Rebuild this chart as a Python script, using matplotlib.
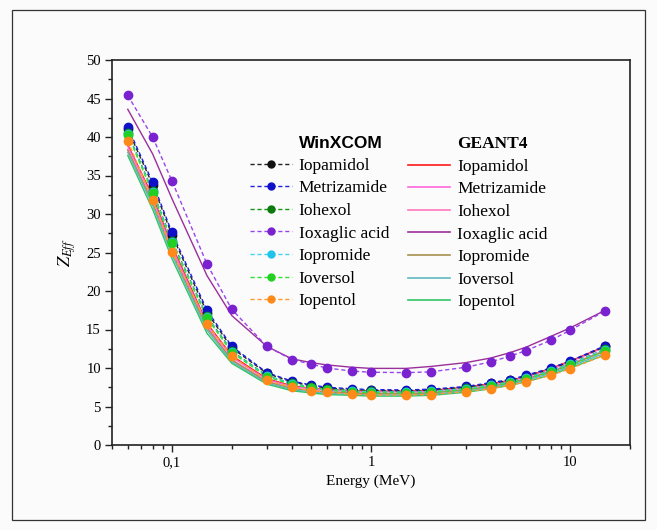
import matplotlib.pyplot as plt
from matplotlib.lines import Line2D
from matplotlib.patches import Rectangle
from matplotlib.ticker import FixedLocator, LogLocator, MultipleLocator, NullFormatter

plt.rcParams["mathtext.fontset"] = "stix"

energy = [0.06, 0.08, 0.1, 0.15, 0.2, 0.3, 0.4, 0.5, 0.6, 0.8, 1, 1.5, 2, 3, 4, 5, 6, 8, 10, 15]

compounds = ["Iopamidol", "Metrizamide", "Iohexol", "Ioxaglic acid", "Iopromide", "Ioversol", "Iopentol"]

# WinXCOM values
wx_iopamidol = [41.0, 33.8, 27.3, 17.2, 12.6, 9.3, 8.2, 7.7, 7.4, 7.2, 7.1, 7.05, 7.15, 7.5, 8.0, 8.4, 8.95, 9.9, 10.8, 12.8]
wx_metrizamide = [41.3, 34.1, 27.6, 17.5, 12.8, 9.4, 8.3, 7.8, 7.5, 7.3, 7.2, 7.15, 7.25, 7.6, 8.1, 8.5, 9.05, 10.0, 10.9, 12.9]
wx_iohexol = [40.5, 33.0, 26.5, 16.7, 12.2, 9.0, 8.0, 7.5, 7.25, 7.05, 6.95, 6.9, 7.0, 7.35, 7.8, 8.2, 8.75, 9.65, 10.55, 12.45]
wx_ioxaglic = [45.4, 40.0, 34.3, 23.5, 17.6, 12.8, 11.1, 10.5, 10.0, 9.6, 9.45, 9.4, 9.5, 10.1, 10.8, 11.55, 12.25, 13.6, 14.9, 17.4]
wx_iopromide = [40.4, 32.9, 26.4, 16.6, 12.1, 8.95, 7.95, 7.45, 7.2, 7.0, 6.9, 6.85, 6.95, 7.3, 7.75, 8.15, 8.7, 9.6, 10.5, 12.4]
wx_ioversol = [40.3, 32.7, 26.2, 16.5, 12.0, 8.85, 7.85, 7.4, 7.1, 6.9, 6.8, 6.75, 6.85, 7.2, 7.65, 8.05, 8.6, 9.45, 10.35, 12.2]
wx_iopentol = [39.5, 31.8, 25.1, 15.7, 11.5, 8.4, 7.5, 7.07, 6.85, 6.6, 6.5, 6.5, 6.55, 6.94, 7.33, 7.76, 8.2, 9.05, 9.9, 11.7]

# GEANT4 values
g4_iopamidol = [39.0, 32.3, 25.9, 15.8, 11.6, 8.6, 7.7, 7.35, 7.2, 7.05, 7.0, 7.0, 7.1, 7.5, 7.95, 8.4, 8.9, 9.95, 10.9, 12.8]
g4_metrizamide = [38.8, 32.0, 25.6, 15.6, 11.4, 8.5, 7.6, 7.3, 7.1, 6.95, 6.9, 6.9, 7.0, 7.4, 7.85, 8.3, 8.8, 9.85, 10.8, 12.7]
g4_iohexol = [38.4, 31.5, 25.2, 15.3, 11.1, 8.3, 7.4, 7.1, 6.9, 6.8, 6.7, 6.7, 6.8, 7.2, 7.65, 8.1, 8.6, 9.6, 10.5, 12.3]
g4_ioxaglic = [43.6, 37.8, 32.0, 22.0, 16.8, 12.8, 11.2, 10.7, 10.4, 10.1, 9.95, 9.95, 10.2, 10.7, 11.3, 12.0, 12.7, 14.1, 15.2, 17.5]
g4_iopromide = [38.3, 31.4, 25.0, 15.2, 11.0, 8.2, 7.35, 7.05, 6.85, 6.75, 6.65, 6.65, 6.75, 7.15, 7.6, 8.05, 8.55, 9.5, 10.4, 12.2]
g4_ioversol = [38.0, 31.1, 24.7, 14.9, 10.8, 8.05, 7.2, 6.9, 6.7, 6.6, 6.5, 6.5, 6.6, 7.0, 7.45, 7.9, 8.4, 9.3, 10.2, 11.95]
g4_iopentol = [37.6, 30.6, 24.2, 14.5, 10.6, 7.9, 7.05, 6.75, 6.55, 6.45, 6.35, 6.35, 6.45, 6.85, 7.3, 7.75, 8.2, 9.1, 10.0, 11.7]

wx_data = [wx_iopamidol, wx_metrizamide, wx_iohexol, wx_ioxaglic, wx_iopromide, wx_ioversol, wx_iopentol]
g4_data = [g4_iopamidol, g4_metrizamide, g4_iohexol, g4_ioxaglic, g4_iopromide, g4_ioversol, g4_iopentol]

wx_colors = ["#111111", "#1010c8", "#0a7a0a", "#7b22d0", "#20c4ea", "#22d022", "#ff8a1a"]
wx_line_colors = ["#222222", "#2020e0", "#139a13", "#9a44ee", "#40d4f0", "#33e033", "#ff9a33"]
g4_colors = ["#ff1a1a", "#ff66dd", "#ff77bb", "#9a2f9a", "#a8904e", "#5fb8c0", "#33c466"]

SERIF = "Liberation Serif"

fig = plt.figure(figsize=(6.57, 5.30), dpi=100)
fig.patch.set_facecolor("#fbfbfb")
ax = fig.add_axes([112 / 657, 85 / 530, 518 / 657, 385 / 530])
ax.set_facecolor("#fbfbfb")
fig.patches.append(Rectangle((12 / 657, 10 / 530), 633 / 657, 510 / 530, transform=fig.transFigure,
                             fill=False, edgecolor="#333333", linewidth=0.9))

for vals, col in zip(g4_data, g4_colors):
    ax.plot(energy, vals, color=col, linewidth=1.0, zorder=2)

for vals, col, lcol in zip(wx_data, wx_colors, wx_line_colors):
    ax.plot(energy, vals, color=lcol, linewidth=1.0, linestyle=(0, (3, 2)), zorder=3)
    ax.plot(energy, vals, linestyle="none", marker="o", markersize=6.0,
            markerfacecolor=col, markeredgecolor=col, zorder=4)

ax.set_xscale("log")
ax.set_xlim(0.05, 20)
ax.set_ylim(0, 50)
ax.xaxis.set_major_locator(FixedLocator([0.1, 1, 10]))
ax.set_xticklabels(["0,1", "1", "10"])
ax.xaxis.set_minor_locator(LogLocator(base=10, subs=range(2, 10)))
ax.xaxis.set_minor_formatter(NullFormatter())
ax.yaxis.set_major_locator(MultipleLocator(5))
ax.yaxis.set_minor_locator(MultipleLocator(2.5))

ax.tick_params(which="both", direction="out", top=False, right=False, width=1.0, color="#222222")
ax.tick_params(which="major", length=5, labelsize=10.5, pad=3)
ax.tick_params(which="minor", length=3)
for lab in ax.get_xticklabels() + ax.get_yticklabels():
    lab.set_fontfamily(SERIF)
for sp in ax.spines.values():
    sp.set_linewidth(1.2)
    sp.set_color("#222222")

ax.set_xlabel("Energy (MeV)", fontfamily=SERIF, fontsize=11, labelpad=4)
ax.set_ylabel(r"$Z_{Eff}$", fontsize=13, labelpad=6)

# legend: two columns with a header row each
blank = Line2D([], [], color="none")
handles = [blank]
labels = ["WinXCOM"]
for name, col, lcol in zip(compounds, wx_colors, wx_line_colors):
    handles.append(Line2D([], [], color=lcol, linewidth=1.0, linestyle=(0, (3, 2)),
                          marker="o", markersize=5, markerfacecolor=col, markeredgecolor=col))
    labels.append(name)
handles.append(blank)
labels.append("GEANT4")
for name, col in zip(compounds, g4_colors):
    handles.append(Line2D([], [], color=col, linewidth=1.2))
    labels.append(name)

leg = ax.legend(handles, labels, ncol=2, loc="upper left", bbox_to_anchor=(0.25, 0.825),
                frameon=False, prop={"family": SERIF, "size": 12.5}, handlelength=2.4,
                handletextpad=0.4, columnspacing=1.1, labelspacing=0.37, borderpad=0)
texts = leg.get_texts()
texts[0].set_fontfamily("Liberation Sans")
texts[0].set_fontweight("bold")
texts[8].set_fontweight("bold")

fig.savefig("out.png", dpi=100, facecolor=fig.get_facecolor())
